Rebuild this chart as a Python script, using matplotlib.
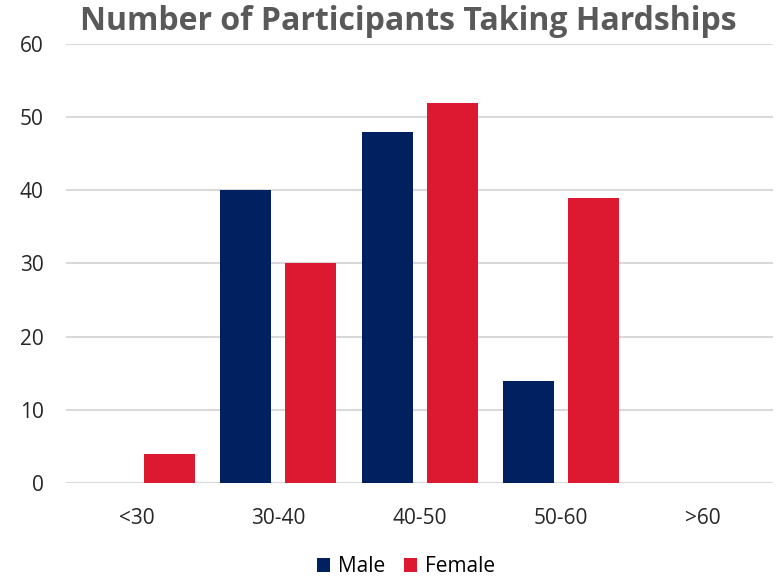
import matplotlib.pyplot as plt
import numpy as np

categories = ['<30', '30-40', '40-50', '50-60', '>60']
male = [0, 40, 48, 14, 0]
female = [4, 30, 52, 39, 0]

plt.rcParams['font.family'] = ['Open Sans', 'DejaVu Sans']

fig = plt.figure(figsize=(7.77, 5.76), dpi=100)
ax = fig.add_axes([0.085, 0.1615, 0.91, 0.7621])

x = np.arange(len(categories))
w = 0.36
off = 0.23
ax.bar(x - off, male, w, color='#002060', label='Male', zorder=3)
ax.bar(x + off, female, w, color='#DC1931', label='Female', zorder=3)

ax.set_xlim(-0.5, len(categories) - 0.5)
ax.set_ylim(0, 60)
ax.set_yticks(range(0, 61, 10))
ax.set_xticks(x)
ax.set_xticklabels(categories)
ax.grid(axis='y', color='#d9d9d9', linewidth=1.5, zorder=0)
for s in ax.spines.values():
    s.set_visible(False)
ax.tick_params(axis='both', length=0, labelsize=15, labelcolor='#262626')
ax.tick_params(axis='y', pad=16)
ax.tick_params(axis='x', pad=18)

fig.text(0.526, 0.963, 'Number of Participants Taking Hardships', ha='center', va='center',
         fontsize=23, fontweight='bold', color='#595959')

fig.legend(loc='center', bbox_to_anchor=(0.523, 0.016), ncol=2, frameon=False,
           fontsize=15, handlelength=0.6, handleheight=0.6, handletextpad=0.4,
           columnspacing=0.9)

fig.savefig('out.png', dpi=100)
